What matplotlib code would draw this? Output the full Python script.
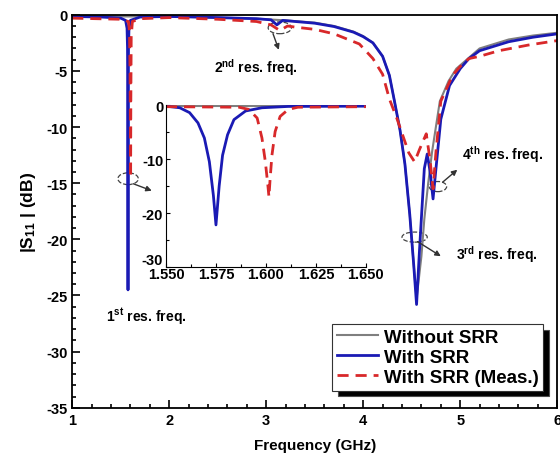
import numpy as np
import matplotlib
matplotlib.use('Agg')
import matplotlib.pyplot as plt
from matplotlib.ticker import MultipleLocator
from matplotlib.patches import Ellipse

plt.rcParams['font.family'] = ['Liberation Sans', 'DejaVu Sans']
plt.rcParams['font.weight'] = 'bold'
plt.rcParams['mathtext.default'] = 'regular'
plt.rcParams['axes.unicode_minus'] = False

# ---------------- main plot data (GHz, dB) ----------------
f_wo = [1.0, 1.5, 2.0, 2.5, 2.9, 3.2, 3.5, 3.7, 3.9, 4.0, 4.1, 4.2, 4.27, 4.32,
        4.38, 4.43, 4.48, 4.52, 4.55, 4.60, 4.63, 4.67, 4.71, 4.79, 4.88, 4.96,
        5.2, 5.5, 5.75, 6.0]
s_wo = [-0.1, -0.15, -0.15, -0.25, -0.35, -0.5, -0.7, -1.0, -1.5, -1.9, -2.5,
        -3.7, -5.4, -7.6, -10.3, -13.3, -17.8, -22.2, -25.3, -21.5, -18.2, -15.0,
        -12.2, -7.7, -5.9, -4.8, -3.0, -2.2, -1.85, -1.6]

f_ws = [1.0, 1.3, 1.5, 1.55, 1.565, 1.570, 1.573, 1.575, 1.577, 1.580, 1.585,
        1.60, 1.7, 2.0, 2.5, 2.9, 3.05, 3.11, 3.17, 3.3, 3.5, 3.7, 3.9, 4.0,
        4.1, 4.2, 4.27, 4.32, 4.38, 4.43, 4.48, 4.52, 4.55, 4.58, 4.63, 4.66,
        4.69, 4.72, 4.75, 4.80, 4.89, 5.0, 5.09, 5.2, 5.5, 5.75, 6.0]
s_ws = [-0.15, -0.2, -0.3, -0.5, -1.2, -3.0, -9.0, -24.5, -9.0, -3.0, -1.2,
        -0.5, -0.2, -0.15, -0.25, -0.35, -0.45, -0.9, -0.5, -0.6, -0.75, -1.05,
        -1.55, -1.95, -2.5, -3.7, -5.4, -7.6, -10.3, -13.3, -17.8, -22.2, -25.8,
        -21.0, -13.7, -12.4, -14.0, -16.4, -13.7, -9.3, -6.3, -4.8, -3.9, -3.2,
        -2.4, -2.0, -1.7]

f_me = [1.0, 1.5, 1.58, 1.590, 1.596, 1.600, 1.602, 1.604, 1.608, 1.62, 1.7,
        2.0, 2.5, 2.9, 3.05, 3.14, 3.22, 3.3, 3.5, 3.7, 3.96, 4.1, 4.2, 4.27,
        4.35, 4.41, 4.47, 4.53, 4.58, 4.65, 4.69, 4.72, 4.75, 4.80, 4.92, 5.0,
        5.09, 5.2, 5.4, 5.7, 6.0]
s_me = [-0.3, -0.4, -0.6, -1.5, -5.0, -11.0, -14.5, -8.0, -2.0, -0.6, -0.35,
        -0.25, -0.4, -0.6, -0.9, -1.4, -1.0, -1.1, -1.3, -1.7, -2.6, -3.9, -5.3,
        -7.5, -9.3, -10.8, -12.3, -13.1, -12.0, -10.6, -13.0, -15.5, -12.2, -7.7,
        -5.4, -4.6, -3.9, -3.7, -3.2, -2.7, -2.3]

# ---------------- inset data (1st resonance zoom) ----------------
fi_wo = [1.550, 1.600, 1.650]
si_wo = [-0.1, -0.1, -0.1]

fi_ws = [1.550, 1.5569, 1.5618, 1.566, 1.5692, 1.5717, 1.5737, 1.575, 1.5766,
         1.5783, 1.5808, 1.584, 1.5898, 1.598, 1.6112, 1.650]
si_ws = [-0.2, -0.5, -1.4, -3.3, -6.1, -10.5, -16.7, -22.2, -15.0, -9.3, -5.5,
         -2.7, -1.1, -0.5, -0.25, -0.2]

fi_me = [1.550, 1.5865, 1.5914, 1.5956, 1.598, 1.5997, 1.601, 1.6015, 1.6021,
         1.603, 1.6046, 1.6071, 1.6112, 1.616, 1.650]
si_me = [-0.3, -0.4, -0.8, -2.4, -6.1, -10.5, -15.0, -17.0, -13.6, -9.3, -4.9,
         -2.1, -0.8, -0.4, -0.3]

gray = '#7f7f7f'
blue = '#1a1ab4'
red = '#d8282a'

fig = plt.figure(figsize=(5.6, 4.64), dpi=100)
ax = fig.add_axes([0.129, 0.119, 0.866, 0.847])

ax.plot(f_wo, s_wo, color=gray, lw=1.5, label='Without SRR')
ax.plot(f_ws, s_ws, color=blue, lw=2, label='With SRR')
ax.plot(f_me, s_me, color=red, lw=2, ls=(0, (4, 2.5)), label='With SRR (Meas.)')

ax.set_xlim(1, 6)
ax.set_ylim(-35, 0)
ax.xaxis.set_major_locator(MultipleLocator(1))
ax.xaxis.set_minor_locator(MultipleLocator(0.2))
ax.yaxis.set_major_locator(MultipleLocator(5))
ax.yaxis.set_minor_locator(MultipleLocator(1))
ax.tick_params(which='both', direction='in', labelsize=10.5, width=1.2)
ax.tick_params(which='major', length=6)
ax.tick_params(which='minor', length=3)
for s in ax.spines.values():
    s.set_linewidth(1.3)
ax.set_xlabel('Frequency (GHz)', fontsize=11, fontweight='bold', labelpad=8)
ax.set_ylabel('|S$_{11}$ | (dB)', fontsize=12.5, fontweight='bold', labelpad=6)

leg = ax.legend(loc='lower right', bbox_to_anchor=(0.99, 0.02), fontsize=13.5,
                frameon=True, fancybox=False, handlelength=2.2, handletextpad=0.3,
                labelspacing=0.15, borderpad=0.25,
                shadow={'ox': 4, 'oy': -4, 'facecolor': 'black', 'alpha': 1})
leg.get_frame().set_edgecolor('#333333')
leg.get_frame().set_linewidth(0.8)
for t in leg.get_texts():
    t.set_fontweight('bold')

# annotations: resonance markers
ann = dict(fontsize=10, fontweight='bold', ha='center', va='center')
ax.text(1.76, -26.8, '1$^{st}$ res. freq.', **ann)
ax.text(2.89, -4.6, '2$^{nd}$ res. freq.', **ann)
ax.text(5.38, -21.3, '3$^{rd}$ res. freq.', **ann)
ax.text(5.44, -12.4, '4$^{th}$ res. freq.', **ann)

ell = [(1.576, -14.6, 0.21, 1.05), (3.14, -1.16, 0.24, 1.05),
       (4.53, -19.8, 0.26, 0.9), (4.77, -15.3, 0.18, 0.9)]
for (x0, y0, w, h) in ell:
    ax.add_patch(Ellipse((x0, y0), w, h, fill=False, ec='#444444', lw=0.9, ls='--'))

arrows = [((1.63, -15.05), (1.82, -15.67)), ((3.07, -1.69), (3.13, -3.12)),
          ((4.56, -20.2), (4.80, -21.5)), ((4.82, -14.9), (4.97, -13.8))]
for (a, b) in arrows:
    ax.annotate('', xy=b, xytext=a,
                arrowprops=dict(arrowstyle='-|>', color='#333333', lw=1,
                                mutation_scale=8, shrinkA=0, shrinkB=0))

# inset
ins = fig.add_axes([0.2964, 0.4224, 0.357, 0.349])
ins.plot(fi_wo, si_wo, color=gray, lw=1.5)
ins.plot(fi_ws, si_ws, color=blue, lw=2)
ins.plot(fi_me, si_me, color=red, lw=2, ls=(0, (4, 2.5)))
ins.set_xlim(1.55, 1.65)
ins.set_ylim(-30, 0)
ins.set_xticks([1.550, 1.575, 1.600, 1.625, 1.650])
ins.set_xticklabels(['1.550', '1.575', '1.600', '1.625', '1.650'])
ins.set_yticks([0, -10, -20, -30])
ins.set_yticklabels(['0', '-10', '-20', '-30'])
ins.yaxis.set_minor_locator(MultipleLocator(5))
ins.xaxis.set_minor_locator(MultipleLocator(0.0125))
ins.tick_params(which='both', direction='in', labelsize=10.5, width=0.8)
ins.tick_params(axis='x', pad=0)
ins.tick_params(axis='y', pad=2)
ins.tick_params(which='major', length=3)
ins.tick_params(which='minor', length=2)
ins.get_yticklabels()[3].set_va('bottom')
ins.spines['top'].set_visible(False)
ins.spines['right'].set_visible(False)
ins.patch.set_alpha(0)

fig.savefig('out.png', dpi=100)
